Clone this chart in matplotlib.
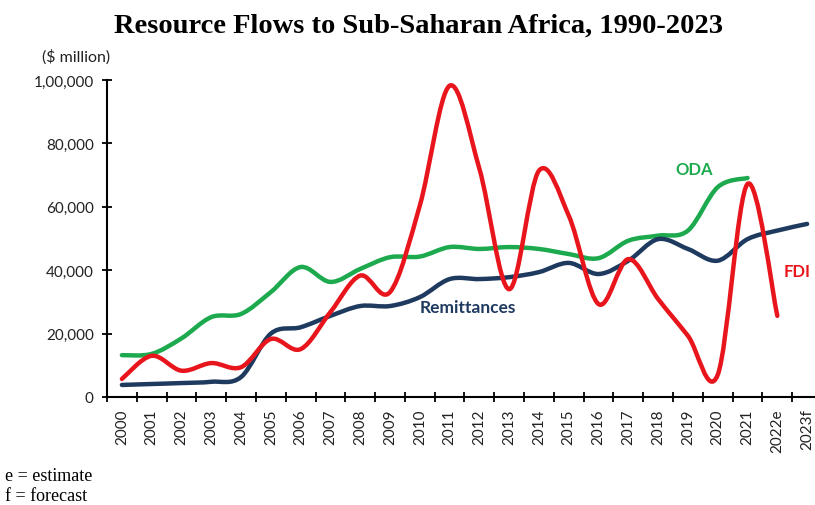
import numpy as np
import matplotlib.pyplot as plt
from matplotlib.path import Path
from matplotlib.patches import PathPatch

# Dados ($ milhões)
anos = ['2000', '2001', '2002', '2003', '2004', '2005', '2006', '2007', '2008',
        '2009', '2010', '2011', '2012', '2013', '2014', '2015', '2016', '2017',
        '2018', '2019', '2020', '2021', '2022e', '2023f']

remessas = [3800, 4100, 4400, 4800, 6300, 20000, 22000, 25600, 28700, 28700,
            31500, 37200, 37200, 37800, 39400, 42300, 38800, 43000, 49800,
            46700, 43000, 49800, 52500, 54600]

oda = [13200, 13600, 18500, 25200, 26200, 33100, 41000, 36300, 40400, 44100,
       44300, 47300, 46700, 47300, 46700, 45100, 43800, 49300, 50900, 52500,
       66200, 69100]

fdi = [5700, 13000, 8300, 10700, 9400, 18300, 15100, 26800, 38300, 33100,
       60400, 98200, 72000, 34000, 71400, 57200, 29300, 43500, 30900, 19300,
       7000, 67200, 25600]

yticks = [0, 20000, 40000, 60000, 80000, 100000]
ytick_labels = ['0', '20,000', '40,000', '60,000', '80,000', '1,00,000']

cor_rem = '#1F3A5F'
cor_oda = '#1DAA4E'
cor_fdi = '#E8161C'


# Curva suavizada estilo Excel (Bezier a partir dos pontos)
def linha_suave(ax, y, cor):
    x = np.arange(len(y), dtype=float)
    y = np.asarray(y, dtype=float)
    pts = np.column_stack([x, y])
    verts = [tuple(pts[0])]
    codes = [Path.MOVETO]
    n = len(pts)
    for i in range(n - 1):
        p0 = pts[max(i - 1, 0)]
        p1 = pts[i]
        p2 = pts[i + 1]
        p3 = pts[min(i + 2, n - 1)]
        c1 = p1 + (p2 - p0) / 6.0
        c2 = p2 - (p3 - p1) / 6.0
        verts += [tuple(c1), tuple(c2), tuple(p2)]
        codes += [Path.CURVE4] * 3
    patch = PathPatch(Path(verts, codes), facecolor='none', edgecolor=cor,
                      lw=3.2, capstyle='round', joinstyle='round')
    ax.add_patch(patch)


fig = plt.figure(figsize=(8.15, 5.06), dpi=100)
ax = fig.add_axes([107 / 815, 108 / 506, 715 / 815, 317 / 506])

linha_suave(ax, oda, cor_oda)
linha_suave(ax, remessas, cor_rem)
linha_suave(ax, fdi, cor_fdi)

ax.set_xlim(-0.5, len(anos) - 0.5)
ax.set_ylim(0, 100000)

ax.set_yticks(yticks)
ax.set_yticklabels(ytick_labels, fontfamily='Lato', fontsize=11, color='#222222')
ax.tick_params(axis='y', direction='inout', length=7, width=1.3, pad=6)

ax.set_xticks(np.arange(len(anos)))
ax.set_xticklabels(anos, rotation=90, fontfamily='Lato', fontsize=11, color='#222222')
ax.set_xticks(np.arange(len(anos) + 1) - 0.5, minor=True)
ax.tick_params(axis='x', which='major', length=0, pad=8)
ax.tick_params(axis='x', which='minor', direction='inout', length=7, width=1.3)

for s in ['top', 'right']:
    ax.spines[s].set_visible(False)
for s in ['left', 'bottom']:
    ax.spines[s].set_linewidth(1.5)

ax.text(19.2, 71900, 'ODA', color=cor_oda, fontsize=12, fontweight='bold',
        fontfamily='Lato', ha='center', va='center')
ax.text(22.65, 39700, 'FDI', color=cor_fdi, fontsize=12, fontweight='bold',
        fontfamily='Lato', ha='center', va='center')
ax.text(11.6, 28400, 'Remittances', color=cor_rem, fontsize=12.5, fontweight='bold',
        fontfamily='Lato', ha='center', va='center')

fig.text(418 / 815, 1 - 26 / 506, 'Resource Flows to Sub-Saharan Africa, 1990-2023',
         fontfamily='Liberation Serif', fontweight='bold', fontsize=20.5,
         ha='center', va='center')
fig.text(76 / 815, 1 - 57 / 506, '($ million)', fontfamily='Lato', fontsize=11.5,
         ha='center', va='center', color='#222222')
fig.text(5 / 815, 1 - 477 / 506, 'e = estimate', fontfamily='Liberation Serif',
         fontsize=13, ha='left', va='center')
fig.text(5 / 815, 1 - 497 / 506, 'f = forecast', fontfamily='Liberation Serif',
         fontsize=13, ha='left', va='center')

fig.savefig('out.png', dpi=100)
